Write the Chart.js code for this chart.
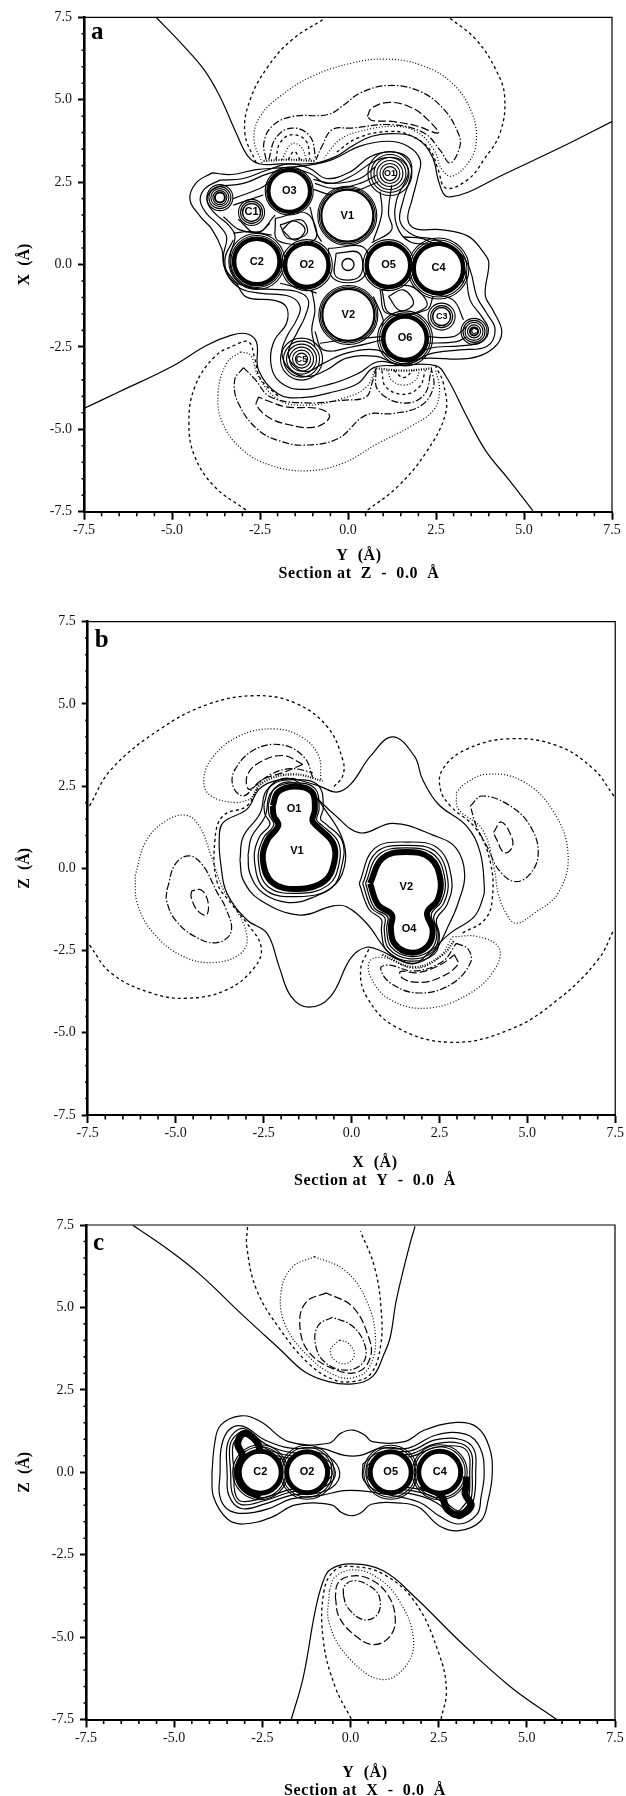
<!DOCTYPE html>
<html>
<head>
<meta charset="utf-8">
<script src="https://cdn.jsdelivr.net/npm/chart.js@4"></script>
<style>
  html, body { margin: 0; background: #fff; width: 626px; height: 1796px; overflow: hidden; }
  canvas { position: absolute; left: 0; }
</style>
</head>
<body>
<canvas id="panelA" width="626" height="590" style="top:0"></canvas>
<canvas id="panelB" width="626" height="600" style="top:600px"></canvas>
<canvas id="panelC" width="626" height="600" style="top:1200px"></canvas>
<script>
// ticks
const majorTicks = [-7.5, -5, -2.5, 0, 2.5, 5, 7.5];
const minorTicks = [-7, -6.5, -6, -5.5, -4.5, -4, -3.5, -3, -2, -1.5, -1, -0.5, 0.5, 1, 1.5, 2, 3, 3.5, 4, 4.5, 5.5, 6, 6.5, 7];

// ---- panel a, section at Z = 0 ----
const aZeroTop = [[-5.45,7.5],[-4.66,6.62],[-4.09,5.91],[-3.64,5.1],[-3.18,4],[-2.84,3.28],[-2.5,3.05],[-1.93,3.05],[-0.91,3.08],[-0.34,3.28],[0.11,3.59],[0.68,3.89],[1.25,3.97],[1.93,3.84],[2.39,3.28],[2.56,2.58],[2.73,2.12],[2.9,2.05],[3.41,2.19],[4.32,2.68],[6.02,3.54],[7.5,4.34]];
const aZeroBottom = [[-7.5,-4.37],[-6.5,-3.86],[-5.03,-3.11],[-4.01,-2.45],[-3.33,-2.15],[-2.88,-2.1],[-2.6,-2.35],[-2.54,-3.21],[-1.98,-3.93],[-1.3,-4.04],[-0.4,-3.86],[0.28,-3.61],[0.73,-3.13],[1.41,-3.07],[2.49,-3.07],[2.82,-3.46],[3.33,-4.52],[3.9,-5.63],[4.58,-6.54],[5.25,-7.47]];
const aOuter1 = [[-3.86,2.78],[-4.32,2.47],[-4.49,1.97],[-4.2,1.46],[-3.86,1.06],[-3.58,0.45],[-3.52,-0.05],[-3.18,-0.56],[-2.88,-0.99],[-2.09,-1.09],[-1.75,-1.29],[-1.75,-1.79],[-2.09,-2.3],[-2.2,-2.9],[-2.03,-3.46],[-1.47,-3.78],[-0.51,-3.63],[0.28,-3.31],[0.85,-2.95],[1.53,-3.03],[2.09,-2.85],[3.45,-2.85],[4.12,-2.55],[4.37,-2.05],[4.12,-1.39],[3.9,-0.93],[4,0.05],[3.86,0.35],[3.41,0.86],[2.61,1.06],[1.93,1.08],[1.7,1.36],[1.82,1.97],[1.99,2.68],[2.05,3.18],[1.7,3.59],[1.14,3.74],[0.34,3.59],[-0.45,3.18],[-1.14,3.01],[-1.93,2.93],[-2.61,2.88],[-3.3,2.73],[-3.86,2.78]];
const aOuter2 = [[-3.64,2.56],[-4.06,2.31],[-4.2,1.95],[-4.02,1.55],[-3.68,1.2],[-3.45,0.84],[-3.54,0.24],[-3.45,-0.27],[-3.07,-0.72],[-2.5,-0.87],[-1.65,-0.97],[-1.36,-1.28],[-1.46,-1.68],[-1.74,-2.19],[-1.88,-2.69],[-1.65,-3.2],[-1.17,-3.4],[-0.61,-3.2],[-0.04,-2.84],[0.81,-2.79],[1.29,-2.99],[1.67,-3.05],[2.33,-2.71],[3.18,-2.59],[3.94,-2.49],[4.18,-1.98],[3.94,-1.48],[3.66,-0.97],[3.47,-0.17],[3.18,0.34],[2.52,0.74],[1.86,0.89],[1.48,1.3],[1.57,1.95],[1.81,2.86],[1.67,3.27],[1.19,3.42],[0.63,3.27],[0.06,2.81],[-0.61,2.61],[-1.08,2.91],[-1.65,3.05],[-2.31,2.86],[-2.97,2.61],[-3.64,2.56]];
const aOuter3 = [[-3.64,2.38],[-3.92,2.21],[-4,1.9],[-3.78,1.55],[-3.4,1.2],[-3.21,0.86],[-3.35,0.24],[-3.26,-0.32],[-2.88,-0.67],[-2.31,-0.75],[-1.46,-0.82],[-1.13,-1.08],[-1.22,-1.58],[-1.46,-2.09],[-1.7,-2.69],[-1.51,-3.1],[-1.17,-3.25],[-0.7,-3],[-0.04,-2.69],[0.81,-2.59],[1.29,-2.84],[1.67,-2.89],[2.33,-2.54],[3.18,-2.47],[3.8,-2.34],[3.99,-1.98],[3.8,-1.58],[3.47,-1.08],[3.32,-0.17],[3.09,0.24],[2.52,0.59],[1.76,0.69],[1.38,1.2],[1.38,1.95],[1.71,2.76],[1.57,3.12],[1.19,3.25],[0.72,3.12],[0.06,2.66],[-0.61,2.46],[-1.08,2.76],[-1.65,2.91],[-2.31,2.74],[-2.97,2.46],[-3.64,2.38]];
const aBridge1 = [[-0.94,2.46],[-0.42,2.31],[0.34,2.46],[0.81,2.71]];
const aBridge2 = [[-0.98,2.28],[-0.42,2.11],[0.25,2.24],[0.86,2.51]];
const aBridge3 = [[0.91,2.21],[0.96,1.55],[0.72,0.72]];
const aBridge4 = [[1.24,2.41],[1.15,1.55],[1.24,1.05],[0.67,0.66]];
const aBridge5 = [[-0.94,-2.03],[-0.7,-2.59],[0.15,-2.49],[0.96,-2.29]];
const aBridge6 = [[-1.03,-0.77],[-0.94,-1.38],[-1.03,-1.98],[-0.94,-2.49]];
const aBridge7 = [[2.23,-2.39],[3.09,-2.34],[3.37,-2.19]];
const aBridge8 = [[2.33,-0.87],[2.99,-1.08],[3.28,-1.68]];
const aBridge9 = [[-3.26,2],[-2.41,2.36],[-2.17,2.61]];
const aBridge10 = [[-3.26,1.8],[-2.41,2.11]];
const aBridge11 = [[-3.54,1.45],[-3.07,1.05],[-2.5,1],[-2.22,1.25]];
const aBridge12 = [[-1.08,1.75],[-0.89,0.95],[-0.75,0.69]];
const aBridge13 = [[-3.12,1.37],[-2.59,0.95],[-2.07,1.5]];
const aBridge14 = [[-3.26,0.95],[-2.78,1],[-2.17,0.89]];
const aBridge15 = [[0.72,-0.97],[1,-1.68],[0.96,-1.88]];
const aBridge16 = [[0.91,-0.77],[1.1,-1.48],[2.23,-1.38],[2.42,-0.97]];
const aBridge17 = [[-1.93,-0.57],[-1.17,-0.77],[-0.89,-0.87]];
const aBridge18 = [[-0.8,-2.39],[-0.13,-2.29],[0.96,-2.19]];
const aBridge19 = [[2.23,-2.19],[2.99,-2.19],[3.37,-1.88]];
const aBridge20 = [[-0.98,2.58],[-0.42,2.46],[0.34,2.61],[0.77,2.96]];
const aBridge21 = [[1.57,0.84],[2.23,0.74],[3.09,0.04],[3.28,-0.57]];
const aBridge22 = [[-3.26,0.74],[-3.5,0.14],[-3.3,-0.47],[-2.69,-0.72]];
const aSquare1 = [[-0.56,0.49],[0.48,0.49],[0.41,-0.42],[-0.42,-0.42],[-0.56,0.49]];
const aSquare2 = [[-0.34,0.34],[0.32,0.34],[0.32,-0.37],[-0.34,-0.37],[-0.34,0.34]];
const aHole1a = [[-2.07,1.4],[-1.17,1.55],[-0.94,0.76],[-1.98,0.72],[-2.07,1.4]];
const aHole1b = [[-1.93,1.2],[-1.32,1.35],[-1.17,0.94],[-1.7,0.79],[-1.93,1.2]];
const aHole1c = [[-1.87,1.05],[-1.55,1.32],[-1.22,1.06],[-1.51,0.74],[-1.87,1.05]];
const aHole2a = [[0.96,-0.77],[1.81,-0.67],[2.23,-1.28],[1.19,-1.48],[0.96,-0.77]];
const aHole2b = [[1.15,-0.97],[1.57,-0.77],[1.86,-1.18],[1.48,-1.4],[1.15,-0.97]];

const aDashTop = [[-2.61,3.08],[-2.93,3.99],[-2.78,5],[-2.27,6.01],[-1.59,6.82],[-0.68,7.45]];
const aDashTopRight = [[2.9,7.47],[3.64,6.82],[4.2,5.91],[4.45,5.1],[4.32,3.99],[3.86,3.18],[3.41,2.58],[2.78,2.32],[2.56,2.88],[2.33,3.48],[1.82,3.89],[1.25,4.04],[0.3,3.85],[-0.4,3.35]];
const aDashLeft = [[-2.9,-7.45],[-3.79,-6.74],[-4.35,-5.83],[-4.52,-4.82],[-4.35,-3.71],[-3.79,-2.8],[-3.22,-2.45],[-2.82,-2.35],[-2.66,-2.8],[-2.49,-3.46],[-1.98,-4]];
const aDashRight = [[0.56,-7.45],[1.41,-6.74],[2.2,-5.73],[2.77,-4.52],[2.71,-3.61],[2.49,-3.09]];
const aDotTop = [[-2.44,3.08],[-2.67,3.79],[-2.5,4.49],[-1.93,5.1],[-1.02,5.71],[0.11,6.11],[1.02,6.23],[2.05,6.06],[2.95,5.51],[3.52,4.6],[3.64,3.69],[3.41,3.08],[2.95,2.68],[2.67,2.88],[2.44,3.48],[1.93,4.04],[1.25,4.19],[0.34,4.04],[-0.23,3.79],[-0.68,3.23]];
const aDotBottom = [[-3.05,-2.65],[-3.45,-3],[-3.69,-3.91],[-3.56,-4.82],[-2.99,-5.63],[-2.2,-6.09],[-1.19,-6.26],[-0.17,-6.04],[0.85,-5.43],[1.75,-4.93],[2.43,-4.42],[2.6,-3.81],[2.49,-3.21]];
const aDotBottomIn = [[-3.05,-2.65],[-2.77,-2.75],[-2.54,-3.41],[-1.98,-4.1],[-1.19,-4.27],[-0.17,-4.07],[0.51,-3.73],[0.79,-3.13]];
const aDenseTop = [[-2.4,3.14],[-1.7,3.18],[-0.95,3.14]];
const aDenseBottom = [[0.8,-3.15],[1.6,-3.22],[2.4,-3.15]];
const aMixTop = [[-2.33,3.18],[-2.39,3.69],[-2.16,4.19],[-1.59,4.49],[-0.57,4.55],[-0.11,4.85],[0.34,5.2],[1.14,5.43],[2.05,5.25],[2.73,4.7],[3.13,3.99],[3.18,3.59],[2.9,3.08],[2.61,3.48],[2.16,3.99],[1.25,4.24],[0.11,4.14],[-0.45,4.09],[-0.74,3.59],[-0.91,3.18]];
const aMixBottom = [[-2.97,-3.13],[-3.22,-3.51],[-3.11,-4.22],[-2.54,-5.03],[-1.86,-5.38],[-1.19,-5.48],[-0.28,-5.28],[0.51,-4.57],[1.3,-4.52],[2.09,-4.27],[2.43,-3.71],[2.37,-3.16]];
const aMixBottomIn = [[-2.97,-3.13],[-2.66,-3.46],[-2.2,-4.02],[-1.19,-4.2],[-0.17,-4.12],[0.51,-4.02],[0.68,-3.61],[0.79,-3.16]];
const aLongTop = [[0.55,4.49],[0.68,4.75],[1.19,4.92],[1.82,4.75],[2.27,4.39],[2.56,3.99],[1.93,4.21],[1.25,4.34],[0.68,4.37],[0.55,4.49]];
const aLongBottom = [[-2.54,-4.02],[-2.6,-4.27],[-2.2,-4.67],[-1.64,-4.87],[-1.07,-4.95],[-0.68,-4.82],[-0.53,-4.57],[-0.85,-4.37],[-1.75,-4.32],[-2.32,-4.12],[-2.54,-4.02]];
const aArcTop1 = [[-2.25,3.18],[-2.05,3.84],[-1.59,4.14],[-1.08,3.89],[-0.91,3.18]];
const aArcTop2 = [[-2.05,3.18],[-1.93,3.69],[-1.59,3.94],[-1.19,3.74],[-1.08,3.18]];
const aArcTop3 = [[-1.88,3.18],[-1.59,3.67],[-1.31,3.54],[-1.19,3.18]];
const aArcTop4 = [[-1.7,3.18],[-1.53,3.43],[-1.36,3.18]];
const aArcBottom1 = [[0.79,-3.21],[0.85,-3.81],[1.53,-4.2],[2.15,-3.97],[2.37,-3.21]];
const aArcBottom2 = [[0.96,-3.21],[1.07,-3.71],[1.58,-3.94],[2.03,-3.71],[2.2,-3.21]];
const aArcBottom3 = [[1.13,-3.21],[1.24,-3.51],[1.58,-3.66],[1.92,-3.51],[2.03,-3.21]];
const aArcBottom4 = [[1.3,-3.21],[1.58,-3.43],[1.86,-3.21]];

const atomNamesA = ["O3", "C1", "V1", "C2", "O2", "O5", "C4", "V2", "O6", "C3", "O1", "C5", "C", ""];
const atomXA = [-1.67, -2.74, -0.02, -2.59, -1.17, 1.15, 2.57, 0.01, 1.62, 2.66, 1.19, -1.32, 3.58, -3.64];
const atomYA = [2.23, 1.58, 1.48, 0.09, -0.02, -0.02, -0.12, -1.53, -2.24, -1.58, 2.76, -2.87, -2.03, 2.03];
const ringXA = [0];
const ringYA = [0];

// ---- panel b, section at Y = 0 ----
const bZero = [[-1.67,2.74],[-0.93,2.51],[-0.42,2.32],[-0.02,2.56],[0.54,3.41],[1.17,4],[1.79,3.41],[2.02,2.71],[2.47,1.95],[3.27,1.29],[3.66,0.48],[3.78,-0.63],[3.75,-0.86],[3.49,-1.47],[2.81,-1.97],[2.24,-2.53],[1.79,-2.9],[1.34,-2.78],[0.88,-2.53],[0.43,-2.4],[-0.02,-2.73],[-0.59,-3.89],[-1.21,-4.22],[-1.72,-3.89],[-2.06,-2.98],[-2.4,-1.98],[-2.97,-1.57],[-3.54,-0.76],[-3.71,0.08],[-3.76,0.89],[-3.65,1.39],[-2.97,1.8],[-2.63,2.4],[-2.18,2.66],[-1.67,2.74]];
const bMiddle = [[-3.17,0.25],[-3.08,0.96],[-2.6,1.67],[-2.41,2.38],[-1.8,2.74],[-1.09,2.23],[-0.52,1.67],[0.24,1.08],[1.18,1.37],[2.32,1.01],[2.98,0.61],[3.22,-0.2],[3.03,-1.06],[2.79,-1.67],[2.32,-2.58],[1.75,-2.89],[1.09,-2.58],[0.43,-1.67],[-0.14,-1.17],[-0.52,-1.14],[-1.47,-1.42],[-2.6,-0.96],[-3.08,-0.35],[-3.17,0.25]];
const bV1Outer = [[-2.94,0.41],[-2.84,0.96],[-2.46,1.57],[-2.3,2.28],[-1.8,2.63],[-1.14,2.28],[-0.71,1.72],[-0.28,0.96],[-0.17,0.25],[-0.43,-0.46],[-1.09,-0.88],[-1.8,-1.04],[-2.51,-0.76],[-2.89,-0.15],[-2.94,0.41]];
const bV1Ring = [[-2.49,1.95],[-2.28,2.52],[-1.61,2.7],[-0.94,2.52],[-0.8,1.85],[-0.88,1.5],[-0.74,1.36],[-0.27,0.85],[-0.26,0.15],[-0.58,-0.6],[-1.52,-0.86],[-2.45,-0.65],[-2.76,0.25],[-2.62,0.95],[-2.32,1.34],[-2.46,1.65],[-2.49,1.95]];
const bV1Wide = [[-2.37,1.93],[-2.18,2.43],[-1.61,2.6],[-1.04,2.43],[-0.92,1.82],[-0.99,1.47],[-0.85,1.32],[-0.38,0.81],[-0.35,0.15],[-0.66,-0.51],[-1.52,-0.76],[-2.37,-0.56],[-2.65,0.25],[-2.51,0.91],[-2.21,1.32],[-2.34,1.62],[-2.37,1.93]];
const bV1Mid = [[-2.24,1.9],[-2.08,2.33],[-1.61,2.49],[-1.13,2.33],[-1.04,1.8],[-1.11,1.45],[-0.97,1.27],[-0.52,0.76],[-0.49,0.18],[-0.78,-0.4],[-1.52,-0.63],[-2.25,-0.43],[-2.52,0.25],[-2.39,0.86],[-2.08,1.3],[-2.21,1.6],[-2.24,1.9]];
const bV2Mid = [[0.53,-0.46],[0.88,0.31],[1.56,0.5],[2.24,0.31],[2.53,-0.35],[2.45,-0.96],[2.15,-1.35],[2.31,-1.9],[2.15,-2.38],[1.66,-2.56],[1.22,-2.28],[1.12,-1.8],[1.15,-1.42],[0.75,-1.1],[0.53,-0.46]];
const bV2Wide = [[0.4,-0.46],[0.78,0.42],[1.56,0.62],[2.34,0.42],[2.66,-0.35],[2.56,-1],[2.27,-1.4],[2.43,-1.93],[2.26,-2.48],[1.66,-2.68],[1.12,-2.38],[1,-1.83],[1.03,-1.47],[0.65,-1.2],[0.4,-0.46]];
const bV2Ring = [[0.32,-0.46],[0.72,0.5],[1.56,0.7],[2.4,0.5],[2.74,-0.35],[2.63,-1.05],[2.34,-1.47],[2.47,-1.98],[2.31,-2.54],[1.66,-2.75],[1.06,-2.44],[0.93,-1.86],[0.95,-1.5],[0.58,-1.22],[0.32,-0.46]];
const bV2Outer = [[0.22,-0.46],[0.65,0.6],[1.56,0.8],[2.47,0.6],[2.85,-0.35],[2.72,-1.1],[2.42,-1.55],[2.5,-2.05],[2.36,-2.6],[1.66,-2.82],[1,-2.5],[0.85,-1.9],[0.85,-1.55],[0.5,-1.25],[0.22,-0.46]];

const bDashTop = [[-7.45,1.9],[-6.83,3.01],[-5.46,4.22],[-4.1,4.98],[-2.74,5.25],[-1.61,5.03],[-0.7,4.32],[-0.25,3.31],[-0.25,2.81],[-0.53,2.45]];
const bDashRight = [[7.46,2.2],[6.89,3.01],[5.87,3.72],[4.51,3.94],[3.27,3.62],[2.59,3.01],[2.53,2.4],[2.81,1.9],[3.55,1.19],[3.95,0.18],[4,-0.97],[3.78,-1.57],[3.15,-1.97]];
const bDashLow = [[-7.45,-2.33],[-6.83,-3.19],[-5.69,-3.79],[-4.67,-3.95],[-3.54,-3.69],[-2.74,-2.99],[-2.57,-2.38],[-2.97,-1.67],[-3.42,-1.07],[-3.82,-0.42],[-3.88,0.89],[-3.65,1.6],[-2.97,1.9],[-2.63,2.51]];
const bDashBottom = [[0.49,-2.46],[0.26,-3.09],[0.43,-3.9],[1.22,-4.8],[2.81,-5.29],[4.51,-4.9],[5.87,-3.99],[7.01,-2.78],[7.46,-1.87]];
const bDenseTop = [[-2.86,2.1],[-2.52,2.61],[-1.67,2.86],[-0.82,2.66]];
const bDenseBottom = [[0.88,-2.63],[1.79,-3],[2.59,-2.63],[2.93,-2.18]];
const bDotTop = [[-0.87,2.71],[-0.93,3.41],[-1.38,3.97],[-2.18,4.24],[-3.2,4.02],[-3.99,3.31],[-4.2,2.61],[-3.99,2.2],[-3.31,2],[-2.86,2.1]];
const bDotRight = [[2.98,2.3],[3.21,2.56],[3.83,2.86],[4.85,2.66],[5.76,1.7],[6.16,0.38],[5.87,-0.76],[5.19,-1.37],[4.68,-1.67],[4.4,-1.37],[4.17,-0.76],[4.06,-0.02],[3.72,1.19],[3.04,1.8],[2.98,2.3]];
const bDotLeft = [[-6.15,-0.22],[-5.86,0.79],[-5.35,1.39],[-4.73,1.62],[-4.33,1.29],[-3.99,0.38],[-3.65,-0.63],[-3.31,-1.17],[-2.97,-2.08],[-3.14,-2.58],[-3.88,-2.86],[-4.78,-2.68],[-5.63,-1.97],[-6.09,-1.07],[-6.15,-0.22]];
const bDotBottom = [[2.87,-2.08],[3.61,-2.08],[4.2,-2.43],[4.06,-3.09],[3.38,-3.79],[2.19,-4.25],[1.11,-4],[0.54,-3.29],[0.54,-2.79],[0.99,-2.73],[1.79,-3.04],[2.47,-2.73],[2.87,-2.08]];
const bMixTop = [[-1.1,2.76],[-1.33,3.36],[-1.95,3.75],[-2.74,3.62],[-3.31,3.01],[-3.37,2.5],[-3.08,2.2],[-2.74,2.5],[-2.29,2.86],[-1.72,3.03],[-1.1,2.91]];
const bMixRight = [[3.38,1.9],[3.72,2.2],[4.51,1.9],[5.08,1.29],[5.31,0.48],[5.08,-0.17],[4.63,-0.4],[4.17,-0.02],[3.89,0.59],[3.55,1.29],[3.38,1.9]];
const bMixLeft = [[-5.24,-0.63],[-5.01,0.13],[-4.61,0.38],[-4.22,0.08],[-3.82,-0.73],[-3.59,-1.17],[-3.42,-1.92],[-3.82,-2.26],[-4.44,-2.08],[-5.01,-1.57],[-5.26,-0.97],[-5.24,-0.63]];
const bMixBottom = [[2.98,-2.28],[3.32,-2.46],[3.38,-2.88],[2.81,-3.54],[1.9,-3.79],[1.11,-3.49],[0.83,-3.04],[1.05,-2.94],[1.79,-3.12],[2.59,-2.83],[2.98,-2.28]];
const bSmallTop = [[-1.38,3.16],[-1.95,3.43],[-2.63,3.21],[-2.97,2.81],[-2.91,2.4],[-2.52,2.71],[-1.95,2.91],[-1.38,3.16]];
const bSmallRight = [[4.04,1.09],[4.26,1.41],[4.54,0.99],[4.57,0.64],[4.34,0.48],[4.12,0.89],[4.04,1.09]];
const bSmallLeft = [[-4.54,-0.68],[-4.56,-0.86],[-4.39,-1.27],[-4.13,-1.42],[-4.08,-1.02],[-4.27,-0.66],[-4.54,-0.68]];
const bSmallBottom = [[2.93,-2.63],[3.02,-2.93],[2.47,-3.34],[1.9,-3.47],[1.45,-3.34],[1.39,-3.14],[1.9,-3.17],[2.53,-2.93],[2.93,-2.63]];

const labelNamesB = ["O1", "V1", "V2", "O4"];
const labelXB = [-1.63, -1.55, 1.56, 1.64];
const labelYB = [1.8, 0.54, -0.58, -1.85];

// ---- panel c, section at X = 0 ----
const cZeroTop = [[-6.17,7.49],[-5.15,6.74],[-4.25,5.98],[-3.11,4.82],[-1.98,3.71],[-1.3,3.05],[-0.62,2.75],[0.06,2.68],[0.62,2.9],[0.96,3.61],[1.13,4.11],[1.3,5.22],[1.64,6.74],[1.83,7.46]];
const cZeroBottom = [[-1.68,-7.5],[-1.34,-6.22],[-1,-4.2],[-0.77,-3.29],[-0.54,-2.93],[0.02,-2.78],[0.93,-2.99],[1.83,-3.79],[3.08,-5.11],[4.55,-6.52],[5.85,-7.5]];
const cOuter1 = [[-3.93,-0.03],[-3.85,0.88],[-3.68,1.43],[-3.11,1.71],[-2.55,1.54],[-1.76,0.93],[-0.62,0.88],[-0.28,1.18],[0.06,1.28],[0.4,1.13],[0.62,0.93],[1.53,0.93],[2.1,1.28],[3,1.51],[3.57,1.38],[3.93,0.78],[4.02,-0.03],[3.9,-0.86],[3.7,-1.47],[3.08,-1.77],[2.51,-1.62],[1.95,-1.07],[1.49,-0.94],[0.59,-0.97],[0.31,-1.22],[0.02,-1.32],[-0.26,-1.22],[-0.54,-0.99],[-1.56,-0.99],[-2.24,-1.37],[-3.04,-1.57],[-3.49,-1.42],[-3.88,-0.76],[-3.93,-0.03]];
const cOuter2 = [[-3.7,-0.03],[-3.66,0.78],[-3.45,1.28],[-3.06,1.4],[-2.43,0.98],[-1.7,0.73],[-0.85,0.73],[-0.17,0.51],[0.28,0.51],[0.85,0.73],[1.64,0.73],[2.43,1.13],[3.28,1.15],[3.68,0.73],[3.79,-0.03],[3.7,-0.76],[3.59,-1.27],[3.08,-1.57],[2.51,-1.32],[1.95,-0.91],[0.93,-0.66],[0.25,-0.56],[-0.2,-0.56],[-0.88,-0.71],[-1.68,-0.81],[-2.36,-1.12],[-3.04,-1.25],[-3.49,-1.12],[-3.71,-0.71],[-3.7,-0.03]];
const cLeft1 = [[-3.5,0],[-3.5,0.8],[-3.3,1.2],[-3,1.32],[-2.4,0.85],[-1.7,0.6],[-0.9,0.6],[-0.4,0.25],[-0.35,-0.25],[-0.8,-0.6],[-1.7,-0.7],[-2.4,-0.95],[-3.1,-1.1],[-3.45,-0.7],[-3.5,0]];
const cLeft2 = [[-3.4,0],[-3.42,0.8],[-3.25,1.12],[-3,1.22],[-2.4,0.72],[-1.7,0.5],[-0.95,0.5],[-0.5,0.2],[-0.47,-0.2],[-0.9,-0.5],[-1.7,-0.6],[-2.4,-0.85],[-3.1,-0.98],[-3.35,-0.65],[-3.4,0]];
const cLeft3 = [[-3.3,0],[-3.34,0.78],[-3.2,1.05],[-3,1.12],[-2.38,0.62],[-1.7,0.42],[-1,0.42],[-0.58,0.15],[-0.56,-0.15],[-1,-0.42],[-1.7,-0.52],[-2.4,-0.76],[-3.1,-0.88],[-3.28,-0.6],[-3.3,0]];
const cRight1 = [[0.35,0.25],[0.8,0.6],[1.7,0.65],[2.4,0.98],[3.1,1],[3.5,0.7],[3.55,0],[3.5,-0.8],[3.3,-1.25],[3.05,-1.4],[2.4,-0.9],[1.7,-0.65],[0.85,-0.6],[0.38,-0.25],[0.35,0.25]];
const cRight2 = [[0.47,0.2],[0.85,0.5],[1.7,0.55],[2.4,0.86],[3.1,0.88],[3.42,0.6],[3.45,0],[3.42,-0.8],[3.22,-1.13],[3.05,-1.28],[2.42,-0.78],[1.7,-0.55],[0.9,-0.5],[0.5,-0.2],[0.47,0.2]];
const cRight3 = [[0.56,0.15],[0.95,0.42],[1.7,0.47],[2.4,0.75],[3.1,0.78],[3.35,0.55],[3.38,0],[3.35,-0.78],[3.18,-1.05],[3.03,-1.17],[2.42,-0.68],[1.7,-0.47],[0.95,-0.42],[0.58,-0.15],[0.56,0.15]];
const cTailLeft = [[-1.98,0.32],[-2.49,0.53],[-2.66,0.93],[-3,1.18],[-3.2,0.88],[-3.06,0.47],[-3.2,0.02],[-3,-0.48],[-2.55,-0.74]];
const cTailRight = [[2,-0.4],[2.57,-0.71],[2.74,-1.12],[3.08,-1.29],[3.42,-1.02],[3.25,-0.66],[3.28,-0.43],[3.28,-0.13]];

const cDashTop = [[-2.92,7.44],[-2.94,6.84],[-2.66,5.53],[-1.98,4.31],[-1.19,3.3],[-0.51,2.82],[0.06,2.75],[0.57,2.98],[0.85,3.81],[0.87,4.92],[0.68,6.23],[0.28,7.32]];
const cDashBottom = [[0.02,-7.48],[-0.43,-6.52],[-0.77,-5.11],[-0.75,-3.59],[-0.43,-2.96],[0.08,-2.86],[0.93,-3.09],[1.83,-3.94],[2.51,-5.51],[2.72,-6.62],[2.57,-7.48]];
const cDotTop = [[-1.02,6.54],[-1.64,6.23],[-1.96,5.53],[-1.87,4.52],[-1.19,3.51],[-0.4,2.92],[0.11,2.88],[0.51,3.15],[0.71,4.01],[0.45,5.22],[-0.17,6.13],[-1.02,6.54]];
const cDotBottom = [[-0.6,-3.59],[-0.6,-4.6],[0.02,-5.71],[0.93,-6.29],[1.61,-5.81],[1.78,-5],[1.38,-3.89],[0.82,-3.24],[0.14,-2.96],[-0.43,-3.17],[-0.6,-3.59]];
const cLongTop = [[-0.68,5.44],[-1.25,5.17],[-1.44,4.52],[-1.19,3.66],[-0.4,3.1],[0.23,3.05],[0.57,3.51],[0.51,4.11],[0.06,5.02],[-0.68,5.44]];
const cLongBottom = [[-0.43,-3.79],[-0.32,-4.4],[0.14,-4.96],[0.65,-5.23],[1.1,-5],[1.27,-4.45],[1.04,-3.69],[0.48,-3.21],[-0.09,-3.17],[-0.37,-3.39],[-0.43,-3.79]];
const cMixTop = [[-0.51,4.7],[-0.91,4.46],[-1,3.91],[-0.74,3.35],[-0.17,3.1],[0.34,3.3],[0.42,3.81],[0.06,4.43],[-0.51,4.7]];
const cMixBottom = [[-0.2,-3.74],[-0.09,-4.09],[0.36,-4.47],[0.76,-4.32],[0.82,-3.79],[0.53,-3.44],[0.08,-3.29],[-0.18,-3.47],[-0.2,-3.74]];
const cSmallTop = [[-0.31,4.01],[-0.57,3.71],[-0.45,3.4],[-0.11,3.3],[0.11,3.56],[-0.06,3.91],[-0.31,4.01]];

const atomNamesC = ["C2", "O2", "O5", "C4"];
const atomXC = [-2.56, -1.23, 1.14, 2.53];
const atomYC = [0, 0, 0, 0];

// ---- ring sizes and line styles ----
const ringSizesA = [[20.5,22.5,24],[9,11,13],[26,28,29.5],[22.5,24.5,26,28],[21.5,23.5,25.5],[21.5,23.5,25.5],[24.5,26.5,28.5,30.5],[26,28,29.5],[21.5,23.5,25.5,27.5],[9,11,13.5],[7,10,13,16,19,22],[6,9,12,15,18,21],[4,6.5,9,11,13],[5,7,9,11,13]];
const ringWidthsA = [3.6, 1.5, 2.2, 4, 4, 4, 4, 2.2, 4, 1.5, 1.2, 1.2, 2, 2];
const ringSizesC = [[21,25.5,27.5],[20.5,25,27],[20.5,25,27],[21,25.5,27.5]];
const ringWidthsC = [5, 5, 5, 5];
const styles = {
  solid: { borderDash: [], borderWidth: 1.2 },
  dash: { borderDash: [3, 3], borderWidth: 1.3 },
  dot: { borderDash: [1, 2], borderWidth: 1.2 },
  mix: { borderDash: [7, 2, 1.5, 2], borderWidth: 1.2 },
  long: { borderDash: [8, 3], borderWidth: 1.2 },
  dense: { borderDash: [1, 1.5], borderWidth: 2.2 },
  thick: { borderDash: [], borderWidth: 6 },
  blob: { borderDash: [], borderWidth: 7 }
};

function lineSet(points, style) {
  return {
    data: points.map(p => ({ x: p[0], y: p[1] })),
    showLine: true,
    tension: 0.4,
    borderColor: "#000",
    pointRadius: 0,
    fill: false,
    order: 2,
    ...styles[style]
  };
}

// aneis em volta de cada atomo, o primeiro fica branco por dentro
function ringSet(x, y, sizes, firstWidth) {
  return {
    data: sizes.map(() => ({ x: x, y: y })),
    showLine: false,
    pointRadius: sizes,
    pointBorderColor: "#000",
    pointBorderWidth: sizes.map((s, i) => (i === 0 ? firstWidth : 1.1)),
    pointBackgroundColor: sizes.map((s, i) => (i === 0 ? "#fff" : "rgba(0,0,0,0)")),
    order: 1
  };
}

function group(list, style) {
  return list.map(points => lineSet(points, style));
}

function criarPainel(id, conf) {
  const plugin = {
    id: "extras_" + id,
    afterDatasetsDraw(chart) {
      const { ctx, chartArea, scales } = chart;
      ctx.save();
      ctx.strokeStyle = "#000";

      // moldura de cima e da direita
      ctx.lineWidth = 1.2;
      ctx.beginPath();
      ctx.moveTo(chartArea.left, chartArea.top);
      ctx.lineTo(chartArea.right, chartArea.top);
      ctx.lineTo(chartArea.right, chartArea.bottom);
      ctx.stroke();

      // ticks menores
      ctx.lineWidth = 1.6;
      minorTicks.forEach(v => {
        const px = scales.x.getPixelForValue(v);
        const py = scales.y.getPixelForValue(v);
        ctx.beginPath();
        ctx.moveTo(px, chartArea.bottom);
        ctx.lineTo(px, chartArea.bottom + 4.5);
        ctx.moveTo(chartArea.left, py);
        ctx.lineTo(chartArea.left - 2.5, py);
        ctx.stroke();
      });

      // nomes dos atomos
      ctx.fillStyle = "#000";
      ctx.textAlign = "center";
      ctx.textBaseline = "middle";
      conf.names.forEach((name, i) => {
        ctx.font = conf.smallNames.includes(name) ? "bold 9px 'Liberation Sans'" : "bold 11px 'Liberation Sans'";
        ctx.fillText(name, scales.x.getPixelForValue(conf.nameX[i]), scales.y.getPixelForValue(conf.nameY[i]));
      });

      // titulos de baixo
      ctx.font = "bold 16px 'Liberation Serif'";
      ctx.letterSpacing = "0.6px";
      ctx.fillText(conf.xTitle[0], conf.titleX, conf.titleY);
      ctx.fillText(conf.xTitle[1], conf.titleX, conf.titleY + 18);
      ctx.letterSpacing = "0px";

      // letra do painel
      ctx.font = "bold 25px 'Liberation Serif'";
      ctx.textAlign = "left";
      ctx.fillText(conf.letter, chartArea.left + 7, chartArea.top + conf.letterY);
      ctx.restore();
    }
  };

  new Chart(document.getElementById(id), {
    type: "scatter",
    data: { datasets: conf.datasets },
    options: {
      responsive: false,
      animation: false,
      events: [],
      layout: {
        autoPadding: false,
        padding: { top: conf.padTop, right: conf.padRight, bottom: 0, left: 0 }
      },
      plugins: { legend: { display: false }, tooltip: { enabled: false } },
      scales: {
        x: {
          type: "linear",
          min: -7.5,
          max: 7.5,
          afterBuildTicks: s => { s.ticks = majorTicks.map(v => ({ value: v })); },
          afterFit: s => { s.height = conf.xHeight; },
          grid: { drawOnChartArea: false, tickLength: 8, tickWidth: 2, tickColor: "#000" },
          border: { color: "#000", width: 2 },
          ticks: {
            color: "#111",
            padding: 2,
            maxRotation: 0,
            autoSkip: false,
            font: { family: "'Liberation Serif'", size: 14 },
            callback: v => v.toFixed(1)
          }
        },
        y: {
          type: "linear",
          min: -7.5,
          max: 7.5,
          afterBuildTicks: s => { s.ticks = majorTicks.map(v => ({ value: v })); },
          afterFit: s => { s.width = conf.yWidth; },
          grid: { drawOnChartArea: false, tickLength: 6, tickWidth: 2, tickColor: "#000" },
          border: { color: "#000", width: 2.6 },
          ticks: {
            color: "#111",
            padding: 6,
            autoSkip: false,
            font: { family: "'Liberation Serif'", size: 14 },
            callback: v => v.toFixed(1)
          },
          title: {
            display: true,
            text: conf.yTitle,
            color: "#000",
            padding: { top: 15, bottom: 0 },
            font: { family: "'Liberation Serif'", size: 16, weight: "bold" }
          }
        }
      }
    },
    plugins: [plugin]
  });
}

criarPainel("panelA", {
  letter: "a",
  letterY: 15,
  padTop: 17.3,
  padRight: 14,
  xHeight: 78.3,
  yWidth: 84,
  xTitle: ["Y  (Å)", "Section at  Z  -  0.0  Å"],
  titleX: 359,
  titleY: 556,
  yTitle: "X  (Å)",
  names: atomNamesA,
  nameX: atomXA,
  nameY: atomYA,
  smallNames: ["C5", "C", "O1", "C3"],
  datasets: [
    ...atomXA.map((x, i) => ringSet(x, atomYA[i], ringSizesA[i], ringWidthsA[i])),
    ringSet(ringXA[0], ringYA[0], [6], 1.3),
    ...group([aZeroTop, aZeroBottom, aOuter1, aOuter2, aOuter3, aBridge1, aBridge2, aBridge3, aBridge4, aBridge5, aBridge6, aBridge7, aBridge8, aBridge9, aBridge10, aBridge11, aBridge12, aBridge13, aBridge14, aBridge15, aBridge16, aBridge17, aBridge18, aBridge19, aBridge20, aBridge21, aBridge22, aSquare1, aSquare2, aHole1a, aHole1b, aHole1c, aHole2a, aHole2b], "solid"),
    ...group([aDashTop, aDashTopRight, aDashLeft, aDashRight, aArcTop2, aArcTop4, aArcBottom2, aArcBottom4], "dash"),
    ...group([aDotTop, aDotBottom, aDotBottomIn, aArcTop3, aArcBottom3], "dot"),
    ...group([aMixTop, aMixBottom, aMixBottomIn, aArcTop1, aArcBottom1], "mix"),
    ...group([aLongTop, aLongBottom], "long"),
    ...group([aDenseTop, aDenseBottom], "dense")
  ]
});

criarPainel("panelB", {
  letter: "b",
  letterY: 19,
  padTop: 21.7,
  padRight: 10.5,
  xHeight: 85,
  yWidth: 87.7,
  xTitle: ["X  (Å)", "Section at  Y  -  0.0  Å"],
  titleX: 375,
  titleY: 563,
  yTitle: "Z  (Å)",
  names: labelNamesB,
  nameX: labelXB,
  nameY: labelYB,
  smallNames: [],
  datasets: [
    ...group([bZero, bMiddle, bV1Outer, bV1Ring, bV1Wide, bV2Wide, bV2Ring, bV2Outer], "solid"),
    ...group([bV1Mid, bV2Mid], "thick"),
    ...group([bDashTop, bDashRight, bDashLow, bDashBottom], "dash"),
    ...group([bDotTop, bDotRight, bDotLeft, bDotBottom], "dot"),
    ...group([bMixTop, bMixRight, bMixLeft, bMixBottom], "mix"),
    ...group([bSmallTop, bSmallRight, bSmallLeft, bSmallBottom], "long"),
    ...group([bDenseTop, bDenseBottom], "dense")
  ]
});

criarPainel("panelC", {
  letter: "c",
  letterY: 19,
  padTop: 25,
  padRight: 11,
  xHeight: 80.5,
  yWidth: 86,
  xTitle: ["Y  (Å)", "Section at  X  -  0.0  Å"],
  titleX: 365,
  titleY: 573,
  yTitle: "Z  (Å)",
  names: atomNamesC,
  nameX: atomXC,
  nameY: atomYC,
  smallNames: [],
  datasets: [
    ...atomXC.map((x, i) => ringSet(x, atomYC[i], ringSizesC[i], ringWidthsC[i])),
    ...group([cZeroTop, cZeroBottom, cOuter1, cOuter2, cLeft1, cLeft2, cLeft3, cRight1, cRight2, cRight3], "solid"),
    ...group([cTailLeft, cTailRight], "blob"),
    ...group([cDashTop, cDashBottom], "dash"),
    ...group([cDotTop, cDotBottom, cSmallTop], "dot"),
    ...group([cLongTop, cLongBottom], "long"),
    ...group([cMixTop, cMixBottom], "mix")
  ]
});
</script>
</body>
</html>
